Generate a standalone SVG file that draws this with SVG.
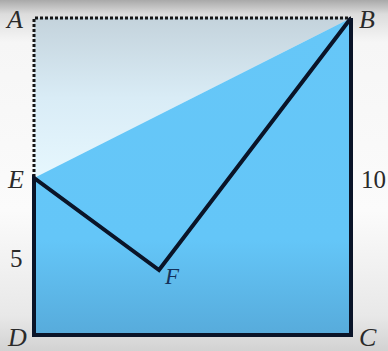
<svg xmlns="http://www.w3.org/2000/svg" width="388" height="351" viewBox="0 0 388 351">
<defs>
<linearGradient id="bg" x1="0" y1="0" x2="0" y2="1">
<stop offset="0" stop-color="#a9a9a9"/>
<stop offset="0.04" stop-color="#dcdcdc"/>
<stop offset="0.12" stop-color="#f6f6f6"/>
<stop offset="0.6" stop-color="#fbfbfb"/>
<stop offset="0.9" stop-color="#e8e8e8"/>
<stop offset="1" stop-color="#d2d2d2"/>
</linearGradient>
<linearGradient id="pale" x1="0" y1="18" x2="0" y2="178" gradientUnits="userSpaceOnUse">
<stop offset="0" stop-color="#c4d3dc"/>
<stop offset="0.5" stop-color="#d9ecf6"/>
<stop offset="1" stop-color="#e6f7fe"/>
</linearGradient>
<linearGradient id="blue" x1="0" y1="18" x2="0" y2="335" gradientUnits="userSpaceOnUse">
<stop offset="0" stop-color="#66c7f8"/>
<stop offset="0.7" stop-color="#64c6f8"/>
<stop offset="1" stop-color="#57abdb"/>
</linearGradient>
<style>
.lbl{font-family:"Liberation Serif","DejaVu Serif",serif;font-style:italic;font-size:26px;fill:#2a2a2a}
.num{font-family:"Liberation Serif","DejaVu Serif",serif;font-size:25px;fill:#2a2a2a}
.solid{fill:none;stroke:#0a1428;stroke-width:4;stroke-linejoin:miter}
.dash{fill:none;stroke:#151515;stroke-width:3;stroke-dasharray:3 2}
</style>
</defs>
<rect x="0" y="0" width="388" height="351" fill="url(#bg)"/>
<g id="regions">
<polygon id="upper" points="34,18 351,18 34,178" fill="url(#pale)"/>
<polygon id="lower" points="34,178 351,18 351,335 34,335" fill="url(#blue)"/>
</g>
<g id="connectors">
<polyline class="dash" points="34,177 34,18 351,18"/>
<polyline class="solid" points="351,18 159,270 34,178 34,335 351,335 351,18"/>
</g>
<g id="node-A"><text class="lbl" x="7" y="28">A</text></g>
<g id="node-B"><text class="lbl" x="359" y="28">B</text></g>
<g id="node-E"><text class="lbl" x="8" y="188">E</text></g>
<g id="node-F"><text class="lbl" x="165" y="284" style="fill:#14325a;font-size:23px">F</text></g>
<g id="node-D"><text class="lbl" x="8" y="346">D</text></g>
<g id="node-C"><text class="lbl" x="359" y="346">C</text></g>
<g id="labels">
<text class="num" x="361" y="188">10</text>
<text class="num" x="10" y="267">5</text>
</g>
</svg>
